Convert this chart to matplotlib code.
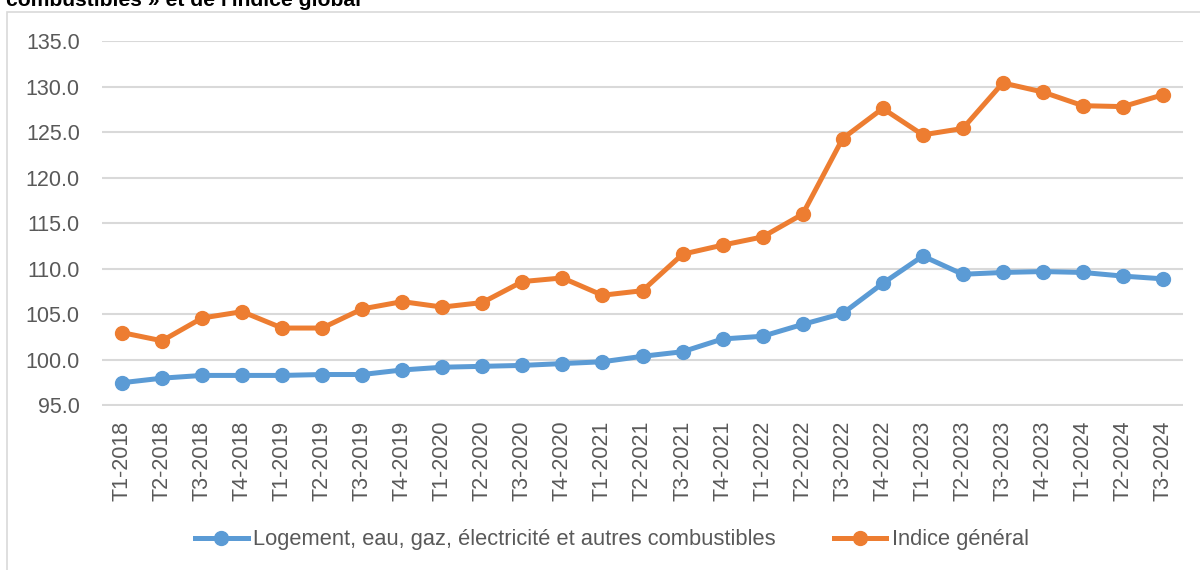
import matplotlib.pyplot as plt
from matplotlib.patches import Rectangle

# Data
quarters = ["T1-2018", "T2-2018", "T3-2018", "T4-2018",
            "T1-2019", "T2-2019", "T3-2019", "T4-2019",
            "T1-2020", "T2-2020", "T3-2020", "T4-2020",
            "T1-2021", "T2-2021", "T3-2021", "T4-2021",
            "T1-2022", "T2-2022", "T3-2022", "T4-2022",
            "T1-2023", "T2-2023", "T3-2023", "T4-2023",
            "T1-2024", "T2-2024", "T3-2024"]

logement = [97.5, 98.0, 98.3, 98.3,
            98.3, 98.4, 98.4, 98.9,
            99.2, 99.3, 99.4, 99.6,
            99.8, 100.4, 100.9, 102.3,
            102.6, 103.9, 105.1, 108.4,
            111.4, 109.4, 109.6, 109.7,
            109.6, 109.2, 108.9]

indice_general = [103.0, 102.1, 104.6, 105.3,
                  103.5, 103.5, 105.6, 106.4,
                  105.8, 106.3, 108.6, 109.0,
                  107.1, 107.6, 111.6, 112.6,
                  113.5, 116.0, 124.3, 127.6,
                  124.7, 125.4, 130.4, 129.4,
                  127.9, 127.8, 129.1]

yticks = [95, 100, 105, 110, 115, 120, 125, 130, 135]

BLUE = "#5B9BD5"
ORANGE = "#ED7D31"
TEXT = "#595959"
GRID = "#D9D9D9"

plt.rcParams['font.family'] = ['Liberation Sans', 'DejaVu Sans']

fig = plt.figure(figsize=(12, 5.7), dpi=100)

# Chart frame (partially outside the picture, as in the reference)
fig.patches.append(Rectangle((7 / 1200, -0.1), 1.2, 1 - 12 / 570 + 0.1,
                             transform=fig.transFigure, fill=False,
                             edgecolor=GRID, linewidth=1.2))

# Cropped title at the very top
fig.text(6 / 1200, 1 - 6 / 570, "combustibles » et de l'indice global",
         fontsize=15.2, fontweight='bold', color='black',
         ha='left', va='baseline')

ax = fig.add_axes([102 / 1200, (570 - 405.5) / 570,
                   (1183 - 102) / 1200, (405.5 - 41) / 570])

x = list(range(len(quarters)))
ax.plot(x, logement, color=BLUE, linewidth=3.6, marker='o', markersize=10,
        label="Logement, eau, gaz, électricité et autres combustibles",
        zorder=3)
ax.plot(x, indice_general, color=ORANGE, linewidth=3.6, marker='o',
        markersize=10, label="Indice général", zorder=3)

ax.set_xlim(-0.5, len(quarters) - 0.5)
ax.set_ylim(95, 135)
ax.set_yticks(yticks)
ax.set_yticklabels([f"{v:.1f}" for v in yticks])
ax.set_xticks(x)
ax.set_xticklabels(quarters, rotation=90)

ax.grid(axis='y', color=GRID, linewidth=1.5)
ax.set_axisbelow(True)
for side in ax.spines.values():
    side.set_visible(False)
ax.tick_params(axis='both', length=0, labelsize=15.5, labelcolor=TEXT)
ax.tick_params(axis='y', pad=16)
ax.tick_params(axis='x', pad=11)

leg = fig.legend(loc='center', bbox_to_anchor=(612 / 1200, 1 - 540 / 570),
                 ncol=2, frameon=False, fontsize=15.75, handlelength=2.4,
                 handletextpad=0.25, columnspacing=2.65)
for t in leg.get_texts():
    t.set_color(TEXT)

fig.savefig("out.png", dpi=100)
